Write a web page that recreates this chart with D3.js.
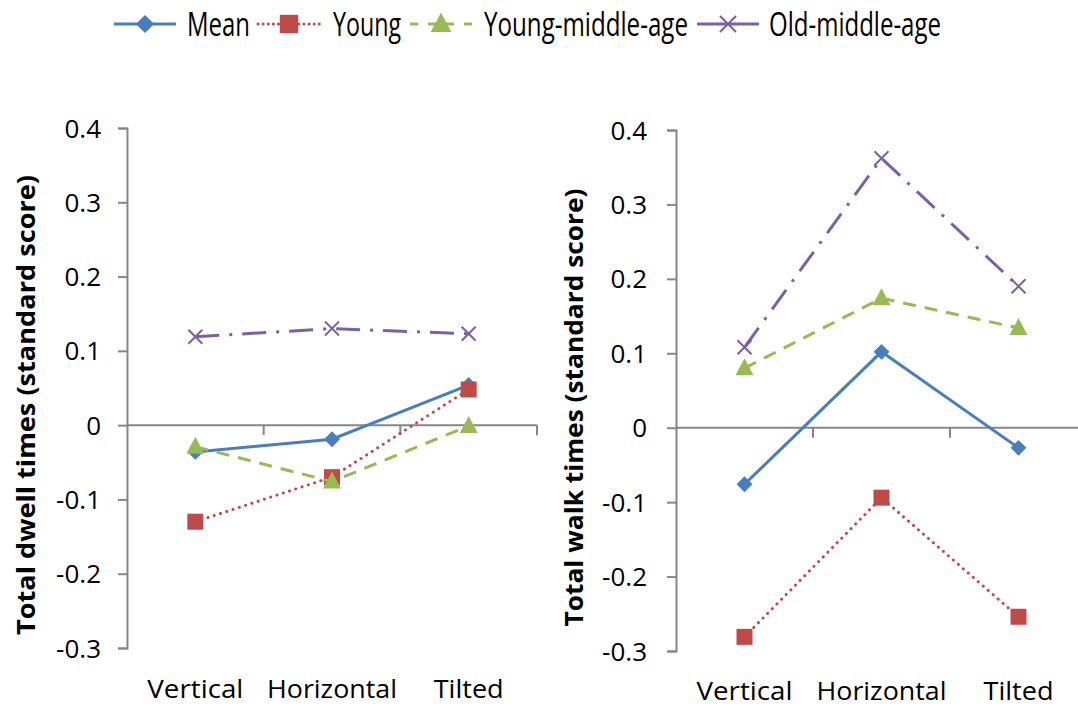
<!DOCTYPE html>
<html>
<head>
<meta charset="utf-8">
<script src="https://cdn.jsdelivr.net/npm/d3@7"></script>
<style>
  html, body { margin: 0; padding: 0; background: #fff; }
  svg { display: block; }
  text { font-family: "Open Sans", "Noto Sans", sans-serif; fill: #000; }
</style>
</head>
<body>
<svg id="chart" width="1078" height="708"></svg>
<script>
// ---- data ----
const categories = ["Vertical", "Horizontal", "Tilted"];
const seriesNames = ["Mean", "Young", "Young-middle-age", "Old-middle-age"];
const yTicks = [-0.3, -0.2, -0.1, 0, 0.1, 0.2, 0.3, 0.4];
const yTickLabels = ["-0.3", "-0.2", "-0.1", "0", "0.1", "0.2", "0.3", "0.4"];

// Left panel: Total dwell times (standard score)
const dwellMean = [-0.036, -0.019, 0.054];
const dwellYoung = [-0.130, -0.070, 0.048];
const dwellYoungMiddle = [-0.029, -0.076, -0.001];
const dwellOldMiddle = [0.119, 0.130, 0.123];

// Right panel: Total walk times (standard score)
const walkMean = [-0.076, 0.102, -0.027];
const walkYoung = [-0.281, -0.094, -0.254];
const walkYoungMiddle = [0.080, 0.174, 0.134];
const walkOldMiddle = [0.108, 0.362, 0.190];

// ---- styles ----
const styles = {
  "Mean":             { color: "#4a7ebb", dash: null,          marker: "diamond",  cap: "butt" },
  "Young":            { color: "#be4b48", dash: "0.1,6.5",     marker: "square",   cap: "round" },
  "Young-middle-age": { color: "#98b954", dash: "13,9",        marker: "triangle", cap: "butt" },
  "Old-middle-age":   { color: "#7d60a0", dash: "24,10,3,10",  marker: "x",        cap: "butt" }
};
const axisColor = "#868686";

const svg = d3.select("#chart");

function drawMarker(g, type, x, y, color, scale) {
  const s = scale || 1;
  if (type === "diamond") {
    g.append("path").attr("d", d3.symbol(d3.symbolDiamond2, 160 * s * s)())
      .attr("transform", `translate(${x},${y})`).attr("fill", color);
  } else if (type === "square") {
    const h = 8 * s;
    g.append("rect").attr("x", x - h).attr("y", y - h).attr("width", 2 * h).attr("height", 2 * h)
      .attr("fill", color);
  } else if (type === "triangle") {
    g.append("path").attr("d", `M${x},${y - 10 * s}L${x + 9 * s},${y + 7 * s}L${x - 9 * s},${y + 7 * s}Z`)
      .attr("fill", color);
  } else if (type === "x") {
    const h = 7 * s;
    g.append("path").attr("d", `M${x - h},${y - h}L${x + h},${y + h}M${x - h},${y + h}L${x + h},${y - h}`)
      .attr("stroke", color).attr("stroke-width", 2).attr("fill", "none");
  }
}

function panel(opts) {
  const { x0, x1, yTop, yBot, data, ylabel, ylabelX, ylabelLen, labelY, tickLabelX } = opts;
  const g = svg.append("g");
  const x = d3.scaleBand().domain(categories).range([x0, x1]);
  const y = d3.scaleLinear().domain([-0.3, 0.4]).range([yBot, yTop]);

  // y axis
  const yAxis = d3.axisLeft(y).tickValues(yTicks).tickSize(9).tickPadding(0)
    .tickFormat((d, i) => yTickLabels[i]);
  const ya = g.append("g").attr("transform", `translate(${x0},0)`).call(yAxis);
  ya.select(".domain").attr("stroke", axisColor).attr("stroke-width", 2);
  ya.selectAll(".tick line").attr("stroke", axisColor).attr("stroke-width", 2);
  ya.selectAll(".tick text")
    .attr("x", tickLabelX - x0)
    .attr("dy", "0.35em")
    .style("font-size", "26px")
    .style("font-family", "'Open Sans', sans-serif")
    .attr("fill", "#000");

  // x axis at zero
  const xa = g.append("g").attr("transform", `translate(0,${y(0)})`);
  xa.append("line").attr("x1", x0).attr("x2", x1).attr("y1", 0).attr("y2", 0)
    .attr("stroke", axisColor).attr("stroke-width", 2);
  categories.forEach((c, i) => {
    const bx = x(c) + x.bandwidth();
    xa.append("line").attr("x1", bx).attr("x2", bx).attr("y1", 0).attr("y2", 10)
      .attr("stroke", axisColor).attr("stroke-width", 2);
  });

  // category labels
  const catLens = [96, 130, 70];
  categories.forEach((c, i) => {
    g.append("text").attr("x", x(c) + x.bandwidth() / 2).attr("y", labelY)
      .attr("text-anchor", "middle").style("font-size", "26px")
      .attr("textLength", catLens[i]).attr("lengthAdjust", "spacingAndGlyphs")
      .text(c);
  });

  // y label
  const cy = (yTop + yBot) / 2 + 17;
  g.append("text").attr("transform", `translate(${ylabelX},${cy}) rotate(-90)`)
    .attr("text-anchor", "middle").style("font-size", "25px").style("font-weight", "bold")
    .attr("textLength", ylabelLen).attr("lengthAdjust", "spacingAndGlyphs")
    .text(ylabel);

  // series
  const line = d3.line().x((d, i) => x(categories[i]) + x.bandwidth() / 2).y(d => y(d));
  seriesNames.forEach((name, si) => {
    const st = styles[name];
    const vals = data[si];
    const sg = g.append("g");
    sg.append("path").attr("d", line(vals)).attr("fill", "none")
      .attr("stroke", st.color).attr("stroke-width", 3)
      .attr("stroke-dasharray", st.dash)
      .attr("stroke-linecap", st.cap);
    vals.forEach((v, i) => drawMarker(sg, st.marker, x(categories[i]) + x.bandwidth() / 2, y(v), st.color));
  });
}

panel({
  x0: 127, x1: 537, yTop: 128, yBot: 648,
  data: [dwellMean, dwellYoung, dwellYoungMiddle, dwellOldMiddle],
  ylabel: "Total dwell times (standard score)", ylabelX: 35, ylabelLen: 460,
  labelY: 698, tickLabelX: 101
});
panel({
  x0: 676, x1: 1087, yTop: 130, yBot: 651,
  data: [walkMean, walkYoung, walkYoungMiddle, walkOldMiddle],
  ylabel: "Total walk times (standard score)", ylabelX: 583, ylabelLen: 438,
  labelY: 700, tickLabelX: 647
});

// legend
const legendItems = [
  { name: "Mean", lx: 114, tx: 187, tlen: 63, dash: null },
  { name: "Young", lx: 258, tx: 333, tlen: 68, dash: "0.1,5" },
  { name: "Young-middle-age", lx: 410, tx: 484, tlen: 204, dash: "8,10" },
  { name: "Old-middle-age", lx: 697, tx: 769, tlen: 172, dash: null }
];
const lg = svg.append("g");
const ly = 24;
legendItems.forEach(it => {
  const st = styles[it.name];
  const len = 62;
  lg.append("line").attr("x1", it.lx).attr("x2", it.lx + len).attr("y1", ly).attr("y2", ly)
    .attr("stroke", st.color).attr("stroke-width", 3)
    .attr("stroke-dasharray", it.dash)
    .attr("stroke-linecap", st.cap);
  drawMarker(lg, st.marker, it.lx + len / 2, ly, st.color, 1.15);
  lg.append("text").attr("x", it.tx).attr("y", ly + 12)
    .style("font-size", "33px")
    .attr("textLength", it.tlen).attr("lengthAdjust", "spacingAndGlyphs")
    .text(it.name);
});
</script>
</body>
</html>
